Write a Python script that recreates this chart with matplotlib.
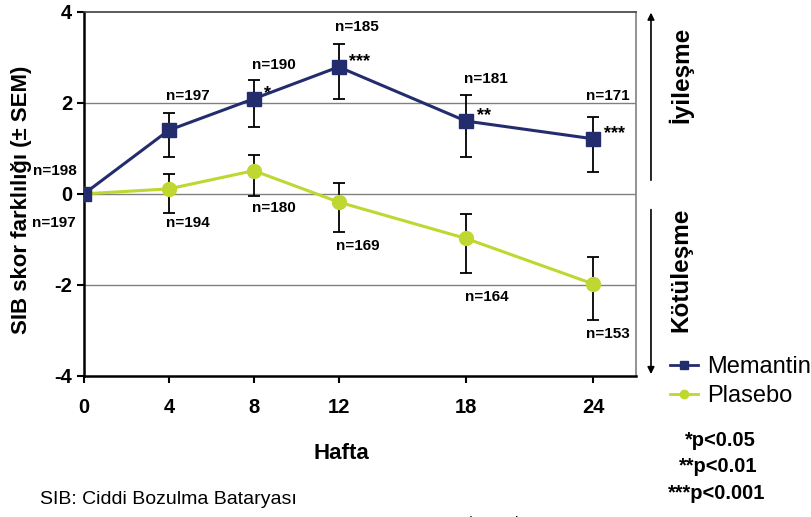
import matplotlib.pyplot as plt
from matplotlib.lines import Line2D

plt.rcParams['font.family'] = 'Liberation Sans'

# Data
weeks = [0, 4, 8, 12, 18, 24]

memantin = [0, 1.40, 2.09, 2.79, 1.60, 1.21]
memantin_up = [0, 0.37, 0.41, 0.50, 0.57, 0.48]
memantin_down = [0, 0.60, 0.62, 0.71, 0.80, 0.72]
memantin_n = ['n=198', 'n=197', 'n=190', 'n=185', 'n=181', 'n=171']
memantin_sig = ['', '', '*', '***', '**', '***']

plasebo = [0, 0.11, 0.51, -0.18, -0.98, -1.98]
plasebo_up = [0, 0.32, 0.35, 0.43, 0.54, 0.59]
plasebo_down = [0, 0.53, 0.56, 0.65, 0.76, 0.80]
plasebo_n = ['n=197', 'n=194', 'n=180', 'n=169', 'n=164', 'n=153']

navy = '#232D6E'
lime = '#BFD730'

fig = plt.figure(figsize=(8.12, 5.17), dpi=100)
ax = fig.add_axes([0.1034, 0.273, 0.6796, 0.704])

# Error bars and lines
ax.errorbar(weeks, memantin, yerr=[memantin_down, memantin_up], color=navy,
            marker='s', markersize=10, linewidth=2.2, ecolor='black',
            elinewidth=1.3, capsize=4, capthick=1.3, zorder=4)
ax.errorbar(weeks, plasebo, yerr=[plasebo_down, plasebo_up], color=lime,
            marker='o', markersize=10, linewidth=2.2, ecolor='black',
            elinewidth=1.3, capsize=4, capthick=1.3, zorder=3)

# n labels (positions in data units)
mem_pos = [(-1.37, 0.51), (4.88, 2.16), (8.97, 2.84), (12.88, 3.67), (18.94, 2.52), (24.66, 2.16)]
pla_pos = [(-1.4, -0.63), (4.88, -0.64), (8.97, -0.31), (12.88, -1.14), (18.98, -2.26), (24.7, -3.07)]
for (x, y), t in zip(mem_pos, memantin_n):
    ax.text(x, y, t, ha='center', va='center', fontsize=11, fontweight='bold', clip_on=False)
for (x, y), t in zip(pla_pos, plasebo_n):
    ax.text(x, y, t, ha='center', va='center', fontsize=11, fontweight='bold', clip_on=False)

# significance stars
for w, v, s in zip(weeks, memantin, memantin_sig):
    if s:
        ax.text(w + 0.5, v + 0.12, s, ha='left', va='center', fontsize=13, fontweight='bold')

ax.set_xlim(0, 26)
ax.set_ylim(-4, 4)
ax.set_xticks(weeks)
ax.set_yticks([-4, -2, 0, 2, 4])
ax.set_yticklabels(['-4', '-2', '0', '2', '4'])
ax.tick_params(axis='both', labelsize=14.5, width=1.5, length=5)
ax.tick_params(axis='x', pad=11)
for lbl in ax.get_xticklabels() + ax.get_yticklabels():
    lbl.set_fontweight('bold')

for y in [-2, 0, 2]:
    ax.axhline(y, color='#808080', linewidth=1, zorder=1)

ax.spines['left'].set_linewidth(1.8)
ax.spines['bottom'].set_linewidth(1.8)
ax.spines['top'].set_color('#404040')
ax.spines['top'].set_linewidth(1.2)
ax.spines['right'].set_color('#808080')
ax.spines['right'].set_linewidth(1.2)

ax.set_xlabel('Hafta', fontsize=16, fontweight='bold')
ax.xaxis.set_label_coords(0.467, -0.185)
ax.set_ylabel('SIB skor farklılığı (± SEM)', fontsize=16, fontweight='bold')
ax.yaxis.set_label_coords(-0.094, 0.484)

# Direction arrows
ax.annotate('', xy=(0.8017, 0.981), xytext=(0.8017, 0.646), xycoords='figure fraction',
            arrowprops=dict(arrowstyle='-|>', color='black', lw=1.2, mutation_scale=10))
ax.annotate('', xy=(0.8017, 0.271), xytext=(0.8017, 0.600), xycoords='figure fraction',
            arrowprops=dict(arrowstyle='-|>', color='black', lw=1.2, mutation_scale=10))
fig.text(0.838, 0.855, 'İyileşme', rotation=90, ha='center', va='center',
         fontsize=17.5, fontweight='bold')
fig.text(0.838, 0.478, 'Kötüleşme', rotation=90, ha='center', va='center',
         fontsize=17.5, fontweight='bold')

# Legend
leg_handles = [Line2D([], [], color=navy, marker='s', markersize=6, linewidth=2),
               Line2D([], [], color=lime, marker='o', markersize=6, linewidth=2)]
fig.legend(leg_handles, ['Memantin', 'Plasebo'], loc='upper left',
           bbox_to_anchor=(0.813, 0.33), frameon=False, fontsize=17,
           handlelength=1.2, handletextpad=0.4, labelspacing=0.3, borderaxespad=0)

fig.text(0.887, 0.148, '*p<0.05', ha='center', va='center', fontsize=14.5, fontweight='bold')
fig.text(0.885, 0.097, '**p<0.01', ha='center', va='center', fontsize=14.5, fontweight='bold')
fig.text(0.883, 0.046, '***p<0.001', ha='center', va='center', fontsize=14.5, fontweight='bold')

fig.text(0.049, 0.033, 'SIB: Ciddi Bozulma Bataryası', ha='left', va='center', fontsize=14)
fig.text(0.552, -0.012, 'Tariot et al 2004', ha='left', va='center', fontsize=11)

fig.savefig('out.png', dpi=100, facecolor='white')
